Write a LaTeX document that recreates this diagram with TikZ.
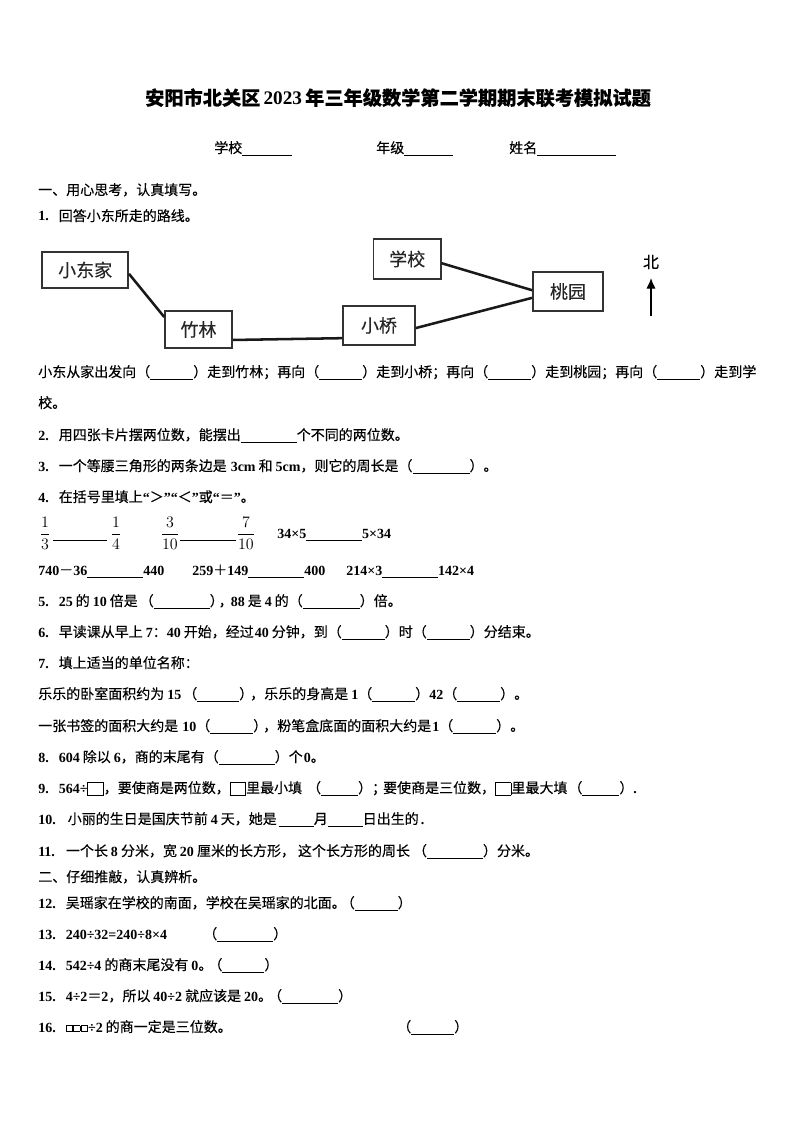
\documentclass[tikz,border=0pt]{standalone}
\usetikzlibrary{arrows.meta}
\usepackage{fontspec}
\setmainfont{Noto Sans CJK SC}[FakeBold=0.2]
\newfontfamily\latf{Liberation Serif}[BoldFont={Liberation Serif Bold}]
\newcommand\lat[1]{{\latf\bfseries #1}}
\newcommand\blk[1]{\rule[-2pt]{\dimexpr #1pt*3/4\relax}{0.75pt}}
\newcommand\gap[1]{\hspace*{\dimexpr #1pt*3/4\relax}}
\newcommand\qn[1]{\lat{#1.}\gap{10}}
\newcommand\sqb{\raisebox{-1.5pt}{\fboxsep=0pt\fboxrule=0.5pt\fbox{\rule{0pt}{9pt}\gap{15}}}}
\newcommand\sqs{\raisebox{0.8pt}{\fboxsep=0pt\fboxrule=0.35pt\fbox{\rule{0pt}{3.8pt}\gap{6}}}\gap{0.5}}
\newcommand\fr[2]{$\displaystyle\frac{#1}{#2}$}
\tikzset{
  ln/.style={anchor=base west,inner sep=0pt,font=\fontsize{10.5}{12}\selectfont},
  ttl/.style={anchor=base,inner sep=0pt,font=\fontsize{14.4}{18}\selectfont\bfseries},
  place/.style={draw=black!80,line width=1.2pt,fill=white,inner sep=0pt,font=\fontsize{13.5}{15}\selectfont\color{black!85}},
  road/.style={line width=1.9pt,black!90},
  frac/.style={anchor=center,inner sep=0pt,font=\fontsize{12}{14}\selectfont}
}
\begin{document}
\begin{tikzpicture}[x=0.75pt,y=-0.75pt]
\useasboundingbox (0,0) rectangle (794,1123);
\fill[white] (0,0) rectangle (794,1123);
\node[ttl] (title) at (398,105) {安阳市北关区\,\lat{2023}\,年三年级数学第二学期期末联考模拟试题};
\node[ln] (school) at (214,153) {学校\blk{50}};
\node[ln] (grade) at (376,153) {年级\blk{49}};
\node[ln] (name) at (509,153) {姓名\blk{79}};
\node[ln] (s1) at (38,195) {一、用心思考，认真填写。};
\node[ln] (q1) at (38,221) {\qn{1}回答小东所走的路线。};
% map
\node[place,minimum width=64.5pt,minimum height=27pt] (home) at (85.2,270) {小东家};
\node[place,minimum width=50.2pt,minimum height=27.7pt] (bamboo) at (198.5,329.5) {竹林};
\node[place,minimum width=54pt,minimum height=29.2pt] (bridge) at (379,325.5) {小桥};
\node[place,minimum width=50.6pt,minimum height=30pt] (schoolbox) at (407.2,259) {学校};
\node[place,minimum width=52.5pt,minimum height=29.2pt] (peach) at (568,291.5) {桃园};
\draw[road] (home.-5) -- (bamboo.160);
\draw[road] (bamboo.-17) -- (bridge.199);
\draw[road] (bridge.-4) -- (peach.190);
\draw[road] (schoolbox.-7) -- (peach.178);
\node[anchor=center,inner sep=0pt,font=\fontsize{12}{14}\selectfont] (north) at (651,262) {北};
\coordinate (arrowfoot) at (651,316);
\coordinate (arrowtip) at (651,278);
\draw[-{Latex[length=8pt,width=7pt]},line width=1pt,black] (arrowfoot) -- (arrowtip);
% lines
\node[ln] (a1) at (38,377) {小东从家出发向（\blk{43}）走到竹林；再向（\blk{43}）走到小桥；再向（\blk{43}）走到桃园；再向（\blk{43}）走到学};
\node[ln] (a2) at (38,408) {校。};
\node[ln] (q2) at (38,440) {\qn{2}用四张卡片摆两位数，能摆出\blk{56}个不同的两位数。};
\node[ln] (q3) at (38,471) {\qn{3}一个等腰三角形的两条边是\gap{4}\lat{3cm}\gap{3}和\gap{3}\lat{5cm}，则它的周长是（\blk{57}）。};
\node[ln] (q4) at (38,502) {\qn{4}在括号里填上\lat{“}＞\lat{”“}＜\lat{”}或\lat{“}＝\lat{”}。};
\node[frac] (f1) at (45,533) {\fr{1}{3}};
\node[ln] (b1) at (53,538) {\blk{54}};
\node[frac] (f2) at (116,533) {\fr{1}{4}};
\node[frac] (f3) at (170,533) {\fr{3}{10}};
\node[ln] (b2) at (180,538) {\blk{56}};
\node[frac] (f4) at (246,533) {\fr{7}{10}};
\node[ln] (c1) at (277,538) {\lat{34×5}\blk{56}\lat{5×34}};
\node[ln] (c2) at (38,575) {\lat{740}－\lat{36}\blk{56}\lat{440}};
\node[ln] (c3) at (192,575) {\lat{259}＋\lat{149}\blk{56}\lat{400}};
\node[ln] (c4) at (346,575) {\lat{214×3}\blk{56}\lat{142×4}};
\node[ln] (q5) at (38,606) {\qn{5}\lat{25}\gap{3}的\gap{3}\lat{10}\gap{3}倍是\gap{2}（\blk{56}）\gap{-5}，\gap{-2}\lat{88}\gap{3}是\gap{3}\lat{4}\gap{3}的（\blk{57}）倍。};
\node[ln] (q6) at (38,637) {\qn{6}早读课从早上\gap{3}\lat{7}：\lat{40}\gap{3}开始，经过\gap{1}\lat{40}\gap{3}分钟，到（\blk{43}）时（\blk{43}）分结束。};
\node[ln] (q7) at (38,668) {\qn{7}填上适当的单位名称：};
\node[ln] (a3) at (38,699) {乐乐的卧室面积约为\gap{3}\lat{15}\gap{2}（\blk{42}）\gap{-3}，乐乐的身高是\gap{3}\lat{1}（\blk{43}）\lat{42}（\blk{43}）。};
\node[ln] (a4) at (38,731) {一张书签的面积大约是\gap{4}\lat{10}（\blk{43}）\gap{-4}，粉笔盒底面的面积大约是\gap{1}\lat{1}（\blk{43}）。};
\node[ln] (q8) at (38,762) {\qn{8}\lat{604}\gap{3}除以\gap{3}\lat{6}，商的末尾有（\blk{56}）个\gap{1}\lat{0}。};
\node[ln] (q9) at (38,793) {\qn{9}\lat{564÷}\sqb，要使商是两位数，\sqb 里最小填\gap{5}（\blk{37}）；\gap{-3}要使商是三位数，\sqb 里最大填\gap{1}（\blk{37}）\lat{.}};
\node[ln] (q10) at (38,824) {\qn{10}\gap{2}小丽的生日是国庆节前\gap{3}\lat{4}\gap{3}天，她是\gap{2}\blk{35}月\blk{35}日出生的\gap{2}\lat{.}};
\node[ln] (q11) at (38,856) {\qn{11}\gap{1}一个长\gap{3}\lat{8}\gap{3}分米，宽\gap{3}\lat{20}\gap{3}厘米的长方形，\gap{3}这个长方形的周长\gap{3}（\blk{56}）分米。};
\node[ln] (s2) at (38,882) {二、仔细推敲，认真辨析。};
\node[ln] (q12) at (38,908) {\qn{12}吴瑶家在学校的南面，学校在吴瑶家的北面。\gap{-5}（\blk{43}）};
\node[ln] (q13) at (38,939) {\qn{13}\lat{240÷32=240÷8×4}};
\node[ln] (p13) at (203,939) {（\blk{56}）};
\node[ln] (q14) at (38,970) {\qn{14}\lat{542÷4}\gap{3}的商末尾没有\gap{3}\lat{0}。\gap{-4}（\blk{42}）};
\node[ln] (q15) at (38,1001) {\qn{15}\lat{4÷2}＝\lat{2}，所以\gap{3}\lat{40÷2}\gap{3}就应该是\gap{3}\lat{20}。\gap{-4}（\blk{56}）};
\node[ln] (q16) at (38,1032) {\qn{16}\sqs\sqs\sqs\lat{÷2}\gap{3}的商一定是三位数。};
\node[ln] (p16) at (397,1032) {（\blk{43}）};
\end{tikzpicture}
\end{document}
